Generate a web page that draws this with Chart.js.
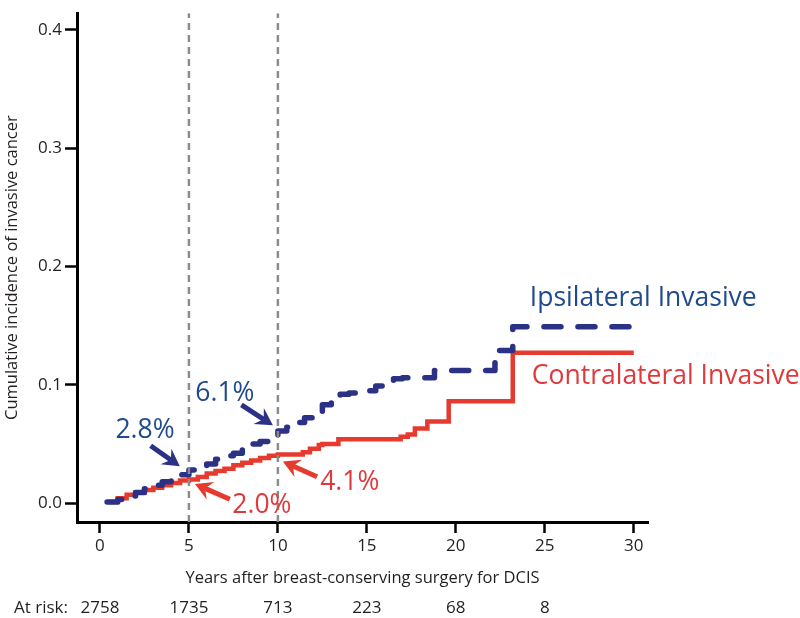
<!DOCTYPE html>
<html>
<head>
<meta charset="utf-8">
<script src="https://cdn.jsdelivr.net/npm/chart.js@4/dist/chart.umd.min.js"></script>
<style>
  html, body { margin: 0; padding: 0; background: #fff; }
  #wrap { width: 800px; height: 618px; position: relative; }
</style>
</head>
<body>
<div id="wrap"><canvas id="chart"></canvas></div>
<script>
// axes
const xTicks = [0, 5, 10, 15, 20, 25, 30];
const yTicks = [0, 0.1, 0.2, 0.3, 0.4];
const xMin = -1.29, xMax = 30.8;
const yMin = -0.016, yMax = 0.414;
const markYears = [5, 10];

// cumulative incidence, contralateral invasive (years, value)
const contraYears = [0.5, 1, 1.5, 2, 2.5, 3, 3.5, 4, 4.5, 5, 5.5, 6, 6.5, 7, 7.5, 8, 8.5, 9, 9.5, 10,
  11.4, 11.8, 12.3, 12.5, 13.4, 16.9, 17.3, 17.7, 18.4, 19.6, 23.2, 30];
const contraValues = [0.001, 0.004, 0.007, 0.009, 0.011, 0.013, 0.015, 0.017, 0.019, 0.020, 0.022, 0.025, 0.027, 0.029, 0.032, 0.034, 0.036, 0.038, 0.040, 0.041,
  0.043, 0.046, 0.049, 0.050, 0.054, 0.056, 0.058, 0.063, 0.069, 0.086, 0.127, 0.127];

// cumulative incidence, ipsilateral invasive
const ipsiYears = [0.4, 1, 1.5, 2, 2.5, 3, 3.5, 4, 4.5, 5, 5.5, 6, 6.5, 7, 7.5, 8, 8.5, 9, 9.5, 10,
  10.5, 11, 11.5, 12, 12.5, 13, 13.5, 14, 14.8, 15.5, 16, 16.5, 17, 18.8, 22.2, 23.2, 30];
const ipsiValues = [0.001, 0.003, 0.006, 0.009, 0.012, 0.015, 0.018, 0.021, 0.024, 0.028, 0.031, 0.033, 0.037, 0.040, 0.042, 0.046, 0.050, 0.052, 0.055, 0.061,
  0.064, 0.068, 0.072, 0.077, 0.083, 0.089, 0.092, 0.093, 0.095, 0.099, 0.103, 0.105, 0.106, 0.112, 0.129, 0.149, 0.149];

// numbers at risk
const riskYears = [0, 5, 10, 15, 20, 25];
const atRisk = [2758, 1735, 713, 223, 68, 8];

const blueLine = '#2b3286';
const blueText = '#1f4a8c';
const redLine = '#e63a2e';
const redText = '#e0393c';
const ink = '#231f20';
const FONT = "'Open Sans', 'Noto Sans', sans-serif";

// annotation texts and arrows (data coordinates)
const notes = [
  { text: '2.8%', x: 2.53, y: 0.0615, color: blueText, align: 'center' },
  { text: '6.1%', x: 7.02, y: 0.0928, color: blueText, align: 'center' },
  { text: '2.0%', x: 9.10, y: -0.0020, color: redText, align: 'center' },
  { text: '4.1%', x: 14.04, y: 0.0171, color: redText, align: 'center' },
  { text: 'Ipsilateral Invasive', x: 24.16, y: 0.1727, color: blueText, align: 'left' },
  { text: 'Contralateral Invasive', x: 24.27, y: 0.1069, color: redText, align: 'left' }
];
const arrows = [
  { from: [2.85, 0.0485], to: [4.49, 0.0311], color: blueLine },
  { from: [7.95, 0.0830], to: [9.72, 0.0657], color: blueLine },
  { from: [7.30, 0.0032], to: [5.34, 0.0162], color: redLine },
  { from: [12.2, 0.0222], to: [10.28, 0.0352], color: redLine }
];

const toPoints = (xs, ys) => xs.map((x, i) => ({ x: x, y: ys[i] }));

function drawArrow(ctx, x1, y1, x2, y2, color) {
  const a = Math.atan2(y2 - y1, x2 - x1);
  const head = 17, hw = 9.5, notch = 11;
  const cos = Math.cos(a), sin = Math.sin(a);
  const bx = x2 - head * cos, by = y2 - head * sin;
  const nx = x2 - notch * cos, ny = y2 - notch * sin;
  ctx.strokeStyle = color;
  ctx.fillStyle = color;
  ctx.lineWidth = 5;
  ctx.lineCap = 'butt';
  ctx.beginPath();
  ctx.moveTo(x1, y1);
  ctx.lineTo(nx, ny);
  ctx.stroke();
  ctx.beginPath();
  ctx.moveTo(x2, y2);
  ctx.lineTo(bx + hw * sin, by - hw * cos);
  ctx.lineTo(nx, ny);
  ctx.lineTo(bx - hw * sin, by + hw * cos);
  ctx.closePath();
  ctx.fill();
}

const annotatePlugin = {
  id: 'annotate',
  afterDatasetsDraw(chart) {
    const ctx = chart.ctx;
    const xs = chart.scales.x, ys = chart.scales.y;
    ctx.save();
    arrows.forEach(a => {
      drawArrow(ctx, xs.getPixelForValue(a.from[0]), ys.getPixelForValue(a.from[1]),
        xs.getPixelForValue(a.to[0]), ys.getPixelForValue(a.to[1]), a.color);
    });
    ctx.font = '26.5px ' + FONT;
    ctx.textBaseline = 'middle';
    notes.forEach(n => {
      ctx.fillStyle = n.color;
      ctx.textAlign = n.align;
      ctx.fillText(n.text, xs.getPixelForValue(n.x), ys.getPixelForValue(n.y));
    });
    // at-risk row
    ctx.font = '17px ' + FONT;
    ctx.fillStyle = ink;
    ctx.textAlign = 'left';
    ctx.fillText('At risk:', 14, 608);
    ctx.textAlign = 'center';
    riskYears.forEach((yr, i) => {
      ctx.fillText(String(atRisk[i]), xs.getPixelForValue(yr), 608);
    });
    ctx.restore();
  }
};

const datasets = markYears.map(yr => ({
  data: [{ x: yr, y: yMin }, { x: yr, y: yMax }],
  borderColor: '#8c8c8c',
  borderWidth: 2.5,
  borderDash: [7, 5],
  pointRadius: 0,
  order: 1
}));
datasets.push({
  label: 'Ipsilateral Invasive',
  data: toPoints(ipsiYears, ipsiValues),
  borderColor: blueLine,
  borderWidth: 5.5,
  borderDash: [17, 17],
  borderCapStyle: 'round',
  borderJoinStyle: 'round',
  stepped: true,
  pointRadius: 0,
  order: 2
});
datasets.push({
  label: 'Contralateral Invasive',
  data: toPoints(contraYears, contraValues),
  borderColor: redLine,
  borderWidth: 4.5,
  stepped: true,
  pointRadius: 0,
  order: 3
});

new Chart(document.getElementById('chart'), {
  type: 'line',
  data: { datasets: datasets },
  options: {
    responsive: true,
    maintainAspectRatio: false,
    animation: false,
    devicePixelRatio: 1,
    layout: { padding: { left: 0, right: 152, top: 0, bottom: 0 } },
    plugins: { legend: { display: false }, tooltip: { enabled: false } },
    scales: {
      x: {
        type: 'linear',
        min: xMin,
        max: xMax,
        afterBuildTicks: s => { s.ticks = xTicks.map(v => ({ value: v })); },
        afterFit: s => { s.height = 96; },
        ticks: { font: { family: FONT, size: 17 }, color: ink, padding: 3, callback: v => String(v) },
        grid: { display: true, drawOnChartArea: false, drawTicks: true, tickLength: 11, tickWidth: 2.5, tickColor: '#000' },
        border: { display: true, width: 3, color: '#000' },
        title: {
          display: true,
          text: 'Years after breast-conserving surgery for DCIS',
          font: { family: FONT, size: 16.5 },
          color: ink,
          padding: { top: 0, bottom: 30 }
        }
      },
      y: {
        type: 'linear',
        min: yMin,
        max: yMax,
        afterBuildTicks: s => { s.ticks = yTicks.map(v => ({ value: v })); },
        afterFit: s => { s.width = 77; },
        ticks: { font: { family: FONT, size: 17 }, color: ink, padding: 3, callback: v => v.toFixed(1) },
        grid: { display: true, drawOnChartArea: false, drawTicks: true, tickLength: 12, tickWidth: 2.5, tickColor: '#000' },
        border: { display: true, width: 3, color: '#000' },
        title: {
          display: true,
          text: 'Cumulative incidence of invasive cancer',
          font: { family: FONT, size: 16.5 },
          color: ink,
          padding: { top: 2, bottom: 0 }
        }
      }
    }
  },
  plugins: [annotatePlugin]
});
</script>
</body>
</html>
